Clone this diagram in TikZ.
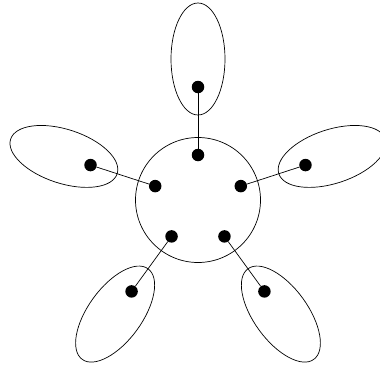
\documentclass[tikz,border=0pt]{standalone}
\usetikzlibrary{shapes.geometric,calc}
\begin{document}
\begin{tikzpicture}[x=1pt,y=1pt,
  dot/.style={circle,fill=black,inner sep=0pt,minimum size=12.5pt},
  petal/.style={ellipse,draw,line width=0.7pt,inner sep=0pt,minimum width=112pt,minimum height=54pt},
  hub/.style={circle,draw,line width=0.7pt,inner sep=0pt,minimum size=125pt},
  link/.style={line width=0.7pt}]
\useasboundingbox (0,0) rectangle (380,368);
\coordinate (c) at (198,168);
\node[hub] (hub) at (c) {};
\foreach \a/\n in {90/a,18/b,-54/c,-126/d,162/e}{
  \node[petal,rotate=\a] (p\n) at ($(c)+(\a:141)$) {};
  \node[dot] (i\n) at ($(c)+(\a:45)$) {};
  \node[dot] (o\n) at ($(c)+(\a:113)$) {};
  \draw[link] (i\n) -- (o\n);
}
\end{tikzpicture}
\end{document}
